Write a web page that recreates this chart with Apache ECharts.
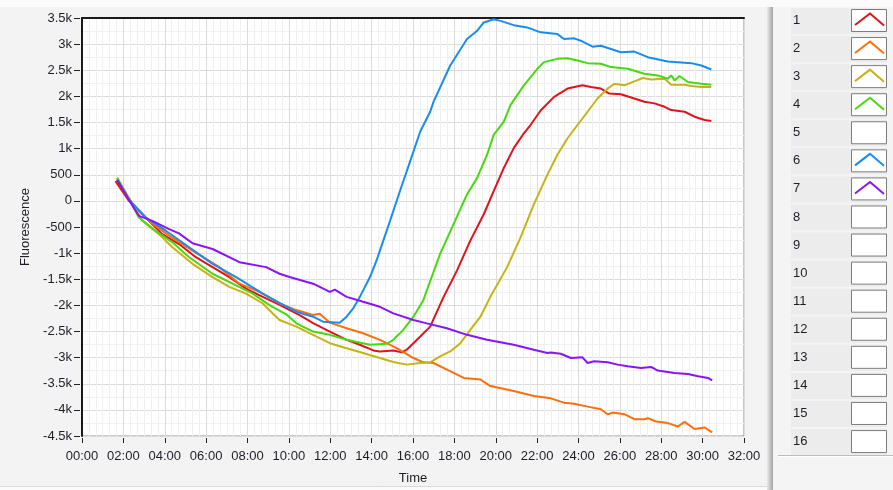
<!DOCTYPE html>
<html>
<head>
<meta charset="utf-8">
<script src="https://cdn.jsdelivr.net/npm/echarts/dist/echarts.min.js"></script>
<style>
  html, body { margin: 0; padding: 0; background: #f3f3f3; }
  #chart { width: 893px; height: 490px; }
</style>
</head>
<body>
<div id="chart"></div>
<script>
// Fluorescence readings per plot: [time in minutes, fluorescence]
const plot1 = [[1.62,378],[2.27,-2],[3.08,-319],[3.88,-636],[4.69,-826],[5.50,-1078],[6.31,-1268],[7.12,-1458],[7.93,-1680],[8.74,-1837],[9.55,-1990],[10.52,-2185],[11.17,-2340],[11.98,-2502],[12.79,-2659],[13.43,-2754],[14.08,-2862],[14.40,-2881],[15.05,-2862],[15.46,-2900],[15.70,-2849],[16.35,-2596],[16.83,-2406],[17.48,-1837],[18.13,-1330],[18.77,-761],[19.42,-256],[19.90,188],[20.39,630],[20.87,1009],[21.36,1294],[21.68,1452],[22.17,1730],[22.82,1991],[23.47,2149],[24.19,2211],[24.60,2181],[25.08,2149],[25.49,2054],[26.05,2040],[26.70,1959],[27.18,1896],[27.67,1866],[28.16,1801],[28.48,1737],[29.13,1706],[29.61,1611],[30.10,1547],[30.42,1528]];
const plot2 = [[1.70,408],[2.43,-66],[3.24,-382],[4.21,-666],[5.34,-951],[6.64,-1268],[7.61,-1585],[8.58,-1742],[9.55,-1964],[10.36,-2090],[11.17,-2185],[11.49,-2160],[11.98,-2331],[12.79,-2439],[13.59,-2534],[14.40,-2659],[15.21,-2819],[16.02,-3008],[16.50,-3090],[16.99,-3103],[17.64,-3228],[18.45,-3388],[19.26,-3418],[19.74,-3545],[20.87,-3640],[21.84,-3735],[22.66,-3779],[23.30,-3862],[23.79,-3881],[24.44,-3938],[25.08,-3988],[25.17,-4020],[25.41,-4083],[25.65,-4052],[26.21,-4083],[26.70,-4178],[27.18,-4178],[27.35,-4159],[27.75,-4223],[28.32,-4253],[28.80,-4318],[29.13,-4229],[29.61,-4367],[30.10,-4337],[30.46,-4432]];
const plot3 = [[1.70,440],[2.27,61],[2.91,-382],[3.72,-636],[4.37,-888],[5.34,-1205],[6.31,-1458],[7.12,-1647],[7.93,-1775],[8.74,-1964],[9.22,-2154],[9.55,-2279],[10.36,-2406],[11.17,-2564],[11.98,-2724],[12.79,-2819],[13.59,-2913],[14.40,-3008],[15.05,-3084],[15.70,-3134],[16.35,-3103],[16.83,-3090],[17.31,-2976],[17.80,-2881],[18.29,-2724],[18.77,-2469],[19.26,-2217],[19.74,-1837],[20.55,-1268],[21.20,-698],[21.84,-66],[22.50,503],[22.98,883],[23.47,1199],[23.95,1452],[24.44,1706],[24.92,1959],[25.08,2021],[25.41,2149],[25.73,2243],[26.21,2211],[26.70,2287],[27.11,2352],[27.51,2325],[28.16,2338],[28.48,2224],[29.13,2224],[29.45,2200],[29.94,2181],[30.42,2181]];
const plot4 = [[1.70,440],[2.75,-319],[3.56,-571],[4.37,-793],[5.18,-1078],[6.31,-1395],[7.28,-1585],[8.25,-1775],[9.06,-1995],[9.87,-2170],[10.36,-2344],[11.17,-2502],[11.98,-2564],[12.79,-2659],[13.92,-2754],[14.73,-2735],[15.05,-2659],[15.53,-2469],[16.02,-2217],[16.50,-1900],[16.67,-1710],[17.31,-1015],[17.96,-446],[18.61,123],[19.10,440],[19.58,883],[19.90,1262],[20.39,1517],[20.71,1832],[21.36,2211],[22.01,2528],[22.33,2655],[22.98,2718],[23.47,2731],[23.95,2686],[24.44,2636],[25.08,2623],[25.57,2560],[26.38,2528],[27.18,2433],[27.83,2401],[28.32,2338],[28.48,2401],[28.64,2306],[28.88,2390],[29.29,2276],[29.94,2243],[30.42,2224]];
const plot6 = [[1.70,408],[2.27,28],[3.08,-319],[4.05,-571],[5.18,-888],[6.31,-1205],[7.45,-1458],[8.74,-1775],[9.55,-1951],[10.36,-2122],[11.17,-2217],[11.65,-2312],[12.46,-2331],[12.79,-2217],[13.11,-2059],[13.43,-1837],[13.92,-1458],[14.24,-1141],[14.40,-951],[14.89,-382],[15.37,188],[15.86,757],[16.35,1327],[16.83,1706],[16.99,1896],[17.80,2591],[18.61,3097],[19.10,3255],[19.42,3415],[19.90,3477],[20.23,3445],[20.87,3363],[21.52,3320],[22.17,3225],[22.98,3192],[23.30,3097],[23.79,3111],[24.11,3065],[24.68,2951],[25.08,2970],[25.57,2908],[26.05,2845],[26.70,2857],[27.35,2750],[28.32,2667],[29.45,2636],[29.94,2591],[30.42,2515]];
const plot7 = [[1.70,400],[2.27,20],[2.75,-287],[3.40,-382],[4.21,-541],[4.69,-623],[5.34,-812],[6.31,-921],[7.61,-1173],[8.90,-1268],[9.55,-1395],[10.03,-1458],[11.17,-1585],[11.98,-1742],[12.22,-1699],[12.79,-1837],[13.59,-1932],[14.40,-2027],[15.05,-2154],[16.02,-2279],[16.67,-2344],[17.64,-2439],[18.61,-2564],[19.58,-2659],[20.87,-2754],[21.84,-2849],[22.50,-2913],[22.66,-2900],[23.14,-2925],[23.63,-3008],[24.19,-2995],[24.44,-3103],[24.76,-3070],[25.41,-3090],[25.89,-3134],[26.38,-3166],[27.02,-3198],[27.51,-3179],[27.83,-3248],[28.64,-3293],[29.29,-3312],[29.78,-3356],[30.26,-3388],[30.46,-3437]];

const plotNames = ['1', '2', '3', '4', '6', '7'];
const plotData = [plot1, plot2, plot3, plot4, plot6, plot7];
const plotColors = ['#e3121a', '#ff6e0c', '#c8b214', '#48d810', '#1a8cf0', '#8a14f8'];

// Plot legend slots on the right-hand panel
const legendSlots = ['1','2','3','4','5','6','7','8','9','10','11','12','13','14','15','16'];

// Axis ranges / ticks
const timeMin = 0, timeMax = 32, timeStep = 2;
const fluorMin = -4500, fluorMax = 3500, fluorStep = 500;

const FONT = '"Liberation Sans", Arial, sans-serif';
const TXT = '#1e1e28';

function timeLabel(v) {
  return String(v).padStart(2, '0') + ':00';
}
function fluorLabel(v) {
  if (Math.abs(v) < 1000) return String(v);
  return (v / 1000) + 'k';
}

// Legend panel drawn as graphic elements
function buildLegend() {
  const children = [];
  const panelX = 773, rowX = 791, rowW = 96, top0 = 9, pitch = 28.07;
  children.push({ type: 'rect', shape: { x: 0, y: 0, width: 893, height: 7 }, style: { fill: '#fbfbfb' }, silent: true });
  children.push({ type: 'rect', shape: { x: 767, y: 7, width: 6, height: 483 },
    style: { fill: new echarts.graphic.LinearGradient(0, 0, 1, 0, [{ offset: 0, color: '#e8e8e8' }, { offset: 1, color: '#a4a4a4' }]) }, silent: true });
  children.push({ type: 'rect', shape: { x: panelX, y: 7, width: 893 - panelX, height: 483 }, style: { fill: '#f4f4f4' }, silent: true });
  legendSlots.forEach((name, i) => {
    const y = top0 + i * pitch;
    children.push({ type: 'rect', shape: { x: rowX, y: y - 1, width: rowW, height: 26 }, style: { fill: '#ececec' }, silent: true });
    children.push({ type: 'text', x: 793, y: y + 11.5,
      style: { text: name, fill: TXT, font: '13px ' + FONT, textVerticalAlign: 'middle', verticalAlign: 'middle' }, silent: true });
    children.push({ type: 'rect', shape: { x: 851.5, y: y + 0.5, width: 35, height: 22 },
      style: { fill: '#ffffff', stroke: '#7d7d7d', lineWidth: 1 }, silent: true });
    const k = plotNames.indexOf(name);
    if (k >= 0) {
      children.push({ type: 'polyline', shape: { points: [[855, y + 16], [870, y + 4.5], [884, y + 16.5]] },
        style: { stroke: plotColors[k], lineWidth: 2, fill: null }, silent: true });
    }
  });
  children.push({ type: 'line', shape: { x1: 778, y1: 455.5, x2: 893, y2: 455.5 }, style: { stroke: '#bdbdbd', lineWidth: 1 }, silent: true });
  children.push({ type: 'line', shape: { x1: 778, y1: 456.5, x2: 893, y2: 456.5 }, style: { stroke: '#ffffff', lineWidth: 1 }, silent: true });
  children.push({ type: 'rect', shape: { x: 0, y: 487, width: 767, height: 3 }, style: { fill: '#fbfbfb' }, silent: true });
  children.push({ type: 'line', shape: { x1: 0, y1: 486.5, x2: 767, y2: 486.5 }, style: { stroke: '#dadada', lineWidth: 1 }, silent: true });
  return children;
}

const chart = echarts.init(document.getElementById('chart'), null, { renderer: 'canvas' });

const option = {
  animation: false,
  backgroundColor: '#f3f3f3',
  textStyle: { fontFamily: FONT },
  grid: {
    left: 82, top: 18, width: 662, height: 423,
    show: true, backgroundColor: '#ffffff', borderColor: '#8e8e8e', borderWidth: 1
  },
  xAxis: [{
    type: 'value', min: timeMin, max: timeMax, interval: timeStep, position: 'bottom', offset: 2,
    name: 'Time', nameLocation: 'middle', nameGap: 34,
    nameTextStyle: { color: TXT, fontSize: 13, fontFamily: FONT },
    axisLine: { show: false, onZero: false },
    axisTick: { show: true, length: 5, lineStyle: { color: '#222', width: 1 } },
    axisLabel: { color: TXT, fontSize: 13, fontFamily: FONT, margin: 12, formatter: timeLabel },
    splitLine: { show: true, lineStyle: { color: '#dcdcdc', width: 1 } },
    minorTick: { show: false, splitNumber: 6 },
    minorSplitLine: { show: true, lineStyle: { color: '#f0f0f0', width: 1 } }
  }, {
    type: 'value', min: timeMin, max: timeMax, position: 'top',
    axisLine: { show: true, onZero: false, lineStyle: { color: '#1a1a1a', width: 2 } },
    axisTick: { show: false }, axisLabel: { show: false }, splitLine: { show: false }
  }],
  yAxis: [{
    type: 'value', min: fluorMin, max: fluorMax, interval: fluorStep, position: 'left', offset: 2,
    name: 'Fluorescence', nameLocation: 'middle', nameGap: 43, nameRotate: 90,
    nameTextStyle: { color: TXT, fontSize: 13, fontFamily: FONT },
    axisLine: { show: false, onZero: false },
    axisTick: { show: true, length: 6, lineStyle: { color: '#222', width: 1 } },
    axisLabel: { color: TXT, fontSize: 13, fontFamily: FONT, margin: 8, formatter: fluorLabel },
    splitLine: { show: true, lineStyle: { color: '#dcdcdc', width: 1 } },
    minorTick: { show: false, splitNumber: 2 },
    minorSplitLine: { show: true, lineStyle: { color: '#f0f0f0', width: 1 } }
  }, {
    type: 'value', min: fluorMin, max: fluorMax, position: 'left',
    axisLine: { show: true, onZero: false, lineStyle: { color: '#1a1a1a', width: 2 } },
    axisTick: { show: false }, axisLabel: { show: false }, splitLine: { show: false }
  }],
  series: plotData.map((d, i) => ({
    name: plotNames[i],
    type: 'line',
    xAxisIndex: 0, yAxisIndex: 0,
    data: d,
    showSymbol: false,
    symbol: 'none',
    lineStyle: { color: plotColors[i], width: 2 },
    itemStyle: { color: plotColors[i] },
    z: 3
  })),
  graphic: { elements: buildLegend() }
};

chart.setOption(option);
</script>
</body>
</html>
